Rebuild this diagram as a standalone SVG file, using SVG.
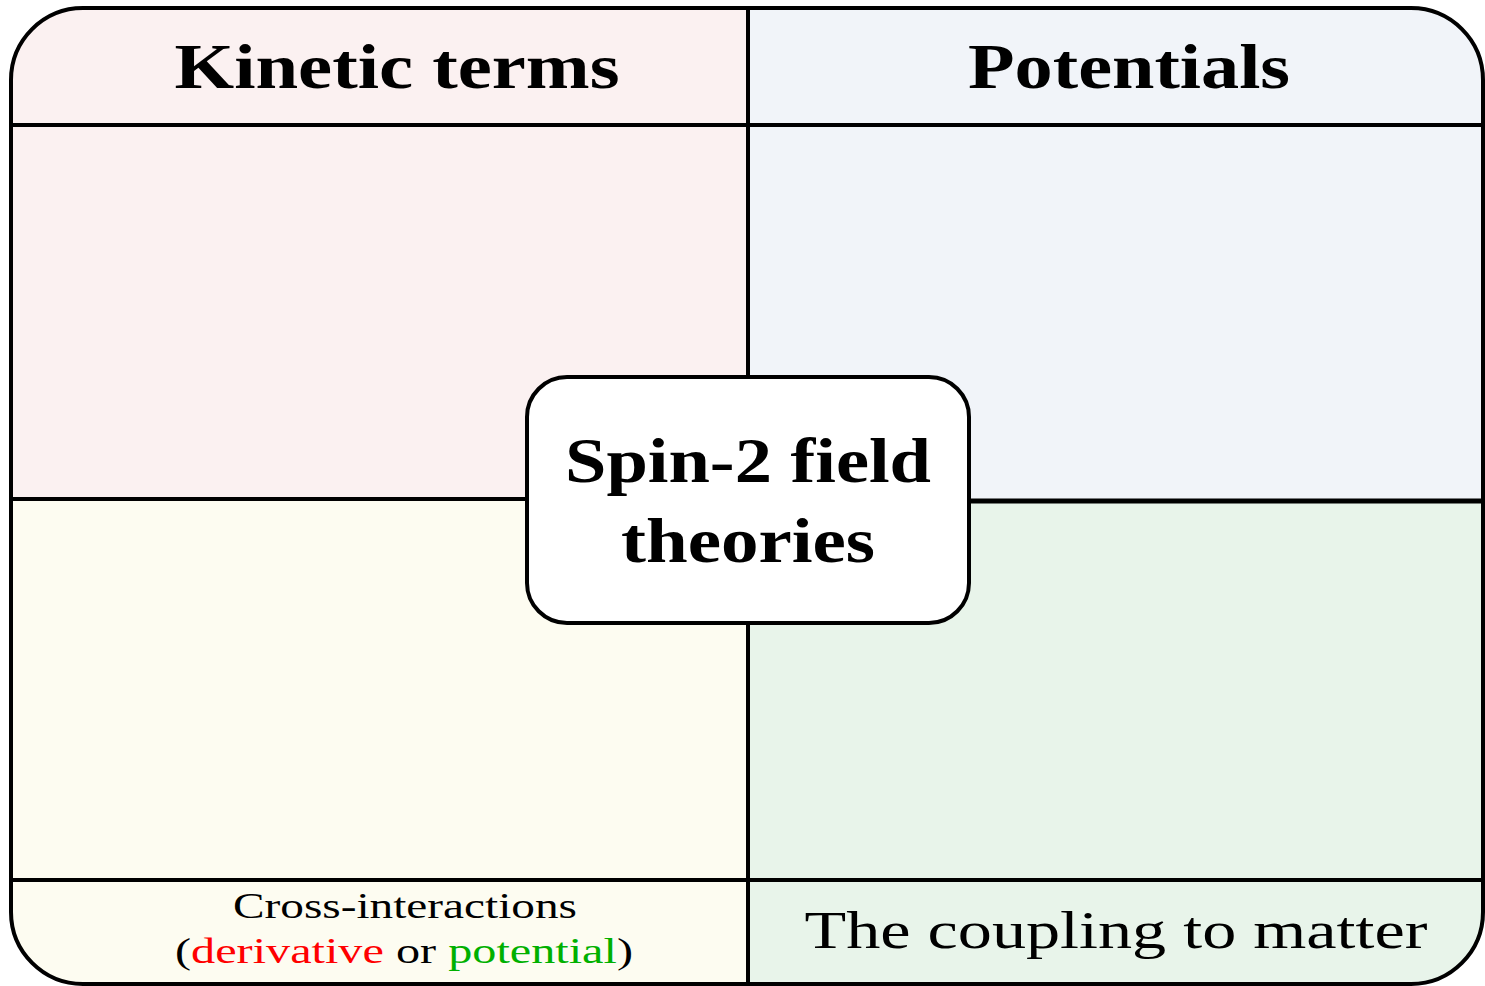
<svg xmlns="http://www.w3.org/2000/svg" width="1485" height="986" viewBox="0 0 1485 986">
<style>
.ln{stroke:#000;stroke-width:4;fill:none}
.hd{font-family:"Liberation Serif",serif;font-weight:bold;fill:#000;text-anchor:middle}
.rg{font-family:"Liberation Serif",serif;fill:#000;text-anchor:middle}
</style>
<defs>
<clipPath id="outer"><rect x="11" y="8" width="1472" height="976" rx="72" ry="72"/></clipPath>
</defs>
<rect width="1485" height="986" fill="#fff"/>
<g id="panels" clip-path="url(#outer)">
<rect id="kinetic" x="0" y="0" width="748" height="500" fill="#FBF1F1"/>
<rect id="potentials" x="748" y="0" width="737" height="501" fill="#F1F4F9"/>
<rect id="cross" x="0" y="500" width="748" height="486" fill="#FDFCF1"/>
<rect id="coupling" x="748" y="501" width="737" height="485" fill="#E8F4EA"/>
</g>
<g id="connectors" class="ln">
<line x1="748" y1="8" x2="748" y2="984"/>
<line x1="11" y1="125" x2="1483" y2="125"/>
<line x1="11" y1="499" x2="748" y2="499"/>
<line x1="748" y1="501" x2="1483" y2="501" stroke-width="5"/>
<line x1="11" y1="880" x2="1483" y2="880"/>
<rect x="11" y="8" width="1472" height="976" rx="72" ry="72"/>
</g>
<g id="labels">
<text class="hd" x="397" y="88" font-size="64" textLength="445" lengthAdjust="spacingAndGlyphs">Kinetic terms</text>
<text class="hd" x="1129" y="88" font-size="64" textLength="322" lengthAdjust="spacingAndGlyphs">Potentials</text>
<text class="rg" x="405" y="918" font-size="36" textLength="344" lengthAdjust="spacingAndGlyphs">Cross-interactions</text>
<text class="rg" x="404" y="963" font-size="36" textLength="458" lengthAdjust="spacingAndGlyphs">(<tspan fill="#FF0000">derivative</tspan> or <tspan fill="#00B000">potential</tspan>)</text>
<text class="rg" x="1116" y="948" font-size="52" textLength="623" lengthAdjust="spacingAndGlyphs">The coupling to matter</text>
</g>
<g id="center">
<rect x="527" y="377" width="442" height="246" rx="40" ry="40" fill="#fff" stroke="#000" stroke-width="4"/>
<text class="hd" x="748" y="482" font-size="64" textLength="366" lengthAdjust="spacingAndGlyphs">Spin-2 field</text>
<text class="hd" x="748" y="562" font-size="64" textLength="254" lengthAdjust="spacingAndGlyphs">theories</text>
</g>
</svg>
